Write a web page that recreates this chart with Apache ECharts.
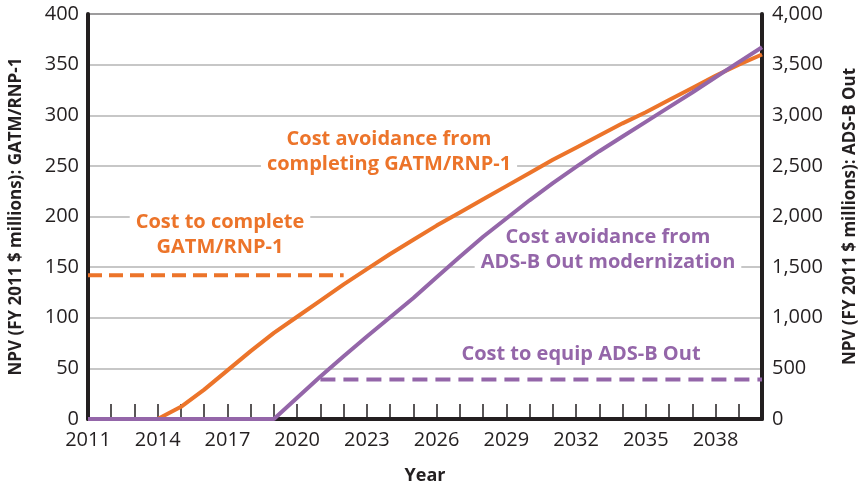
<!DOCTYPE html>
<html>
<head>
<meta charset="utf-8">
<script src="https://cdn.jsdelivr.net/npm/echarts@6/dist/echarts.min.js"></script>
<style>
  html, body { margin: 0; padding: 0; background: #fff; }
  #chart { width: 860px; height: 489px; }
</style>
</head>
<body>
<div id="chart"></div>
<script>
// years on the x axis
const years = ["2011", "2012", "2013", "2014", "2015", "2016", "2017", "2018", "2019", "2020",
  "2021", "2022", "2023", "2024", "2025", "2026", "2027", "2028", "2029", "2030",
  "2031", "2032", "2033", "2034", "2035", "2036", "2037", "2038", "2039", "2040"];

// cost avoidance from completing GATM/RNP-1 (left axis, $M)
const gatmAvoidance = [0, 0, 0, 0, 12, 29, 48, 67, 85, 101,
  117, 133, 148, 163, 177, 191, 204, 217, 230, 243,
  256, 268, 280, 292, 303, 315, 327, 339, 350, 360];

// cost avoidance from ADS-B Out modernization (right axis, $M)
const adsbAvoidance = [0, 0, 0, 0, 0, 0, 0, 0, 0, 210,
  420, 620, 815, 1005, 1195, 1400, 1603, 1800, 1980, 2160,
  2330, 2490, 2645, 2790, 2935, 3080, 3225, 3375, 3525, 3671];

// one-off costs drawn as dashed levels
const gatmCost = [["2011", 142], ["2022", 142]];
const adsbCost = [["2021", 390], ["2040", 390]];

const orange = "#ec742a";
const purple = "#9466a9";
const ink = "#231f20";
const font = "'Open Sans', 'Noto Sans', sans-serif";

const chart = echarts.init(document.getElementById("chart"), null, { renderer: "canvas" });

function fmtThousands(v) {
  return v.toString().replace(/\B(?=(\d{3})+(?!\d))/g, ",");
}

function note(x, y, text, color) {
  return {
    type: "text",
    x: x,
    y: y,
    z: 1,
    style: {
      text: text,
      fill: color,
      font: "bold 20px " + font,
      align: "center",
      verticalAlign: "middle",
      lineHeight: 25,
      backgroundColor: "#fff",
      padding: [0, 6]
    }
  };
}

chart.setOption({
  animation: false,
  grid: {
    left: 88,
    right: 98,
    top: 14,
    bottom: 70,
    containLabel: false,
    outerBoundsMode: "none",
    show: true,
    borderColor: ink,
    borderWidth: 1.5
  },
  xAxis: {
    type: "category",
    data: years,
    boundaryGap: false,
    name: "Year",
    nameLocation: "middle",
    nameGap: 48,
    nameTextStyle: { fontFamily: font, fontWeight: "bold", fontSize: 18, color: ink },
    axisLine: { onZero: false, lineStyle: { color: ink, width: 4 } },
    axisTick: { show: true, inside: true, length: 15, interval: 0, lineStyle: { color: ink, width: 1.5 } },
    axisLabel: { interval: 2, margin: 11, fontFamily: font, fontSize: 20, color: ink },
    splitLine: { show: false }
  },
  yAxis: [
    {
      type: "value",
      position: "left",
      min: 0,
      max: 400,
      interval: 50,
      name: "NPV (FY 2011 $ millions): GATM/RNP-1",
      nameLocation: "middle",
      nameRotate: 90,
      nameGap: 63,
      nameTextStyle: { fontFamily: font, fontWeight: "bold", fontSize: 17, color: ink },
      axisLine: { show: true, lineStyle: { color: ink, width: 4 } },
      axisTick: { show: false },
      axisLabel: { margin: 9, fontFamily: font, fontSize: 20, color: ink },
      splitLine: { show: true, lineStyle: { color: "#b4b4b4", width: 1.5 } }
    },
    {
      type: "value",
      position: "right",
      min: 0,
      max: 4000,
      interval: 500,
      name: "NPV (FY 2011 $ millions): ADS-B Out",
      nameLocation: "middle",
      nameRotate: 90,
      nameGap: 80,
      nameTextStyle: { fontFamily: font, fontWeight: "bold", fontSize: 17, color: ink },
      axisLine: { show: true, lineStyle: { color: ink, width: 4 } },
      axisTick: { show: false },
      axisLabel: { margin: 10, fontFamily: font, fontSize: 20, color: ink, formatter: fmtThousands },
      splitLine: { show: false }
    }
  ],
  series: [
    {
      name: "Cost to complete GATM/RNP-1",
      type: "line",
      yAxisIndex: 0,
      data: gatmCost,
      symbol: "none",
      lineStyle: { color: orange, width: 4, type: [14, 7] }
    },
    {
      name: "Cost to equip ADS-B Out",
      type: "line",
      yAxisIndex: 1,
      data: adsbCost,
      symbol: "none",
      lineStyle: { color: purple, width: 4, type: [15, 8] }
    },
    {
      name: "Cost avoidance from completing GATM/RNP-1",
      type: "line",
      yAxisIndex: 0,
      data: gatmAvoidance,
      symbol: "none",
      lineStyle: { color: orange, width: 4 }
    },
    {
      name: "Cost avoidance from ADS-B Out modernization",
      type: "line",
      yAxisIndex: 1,
      data: adsbAvoidance,
      symbol: "none",
      lineStyle: { color: purple, width: 4 }
    }
  ],
  graphic: [
    note(389, 152, "Cost avoidance from\ncompleting GATM/RNP-1", orange),
    note(220, 235, "Cost to complete\nGATM/RNP-1", orange),
    note(608, 250, "Cost avoidance from\nADS-B Out modernization", purple),
    note(581, 354, "Cost to equip ADS-B Out", purple)
  ]
});
</script>
</body>
</html>
